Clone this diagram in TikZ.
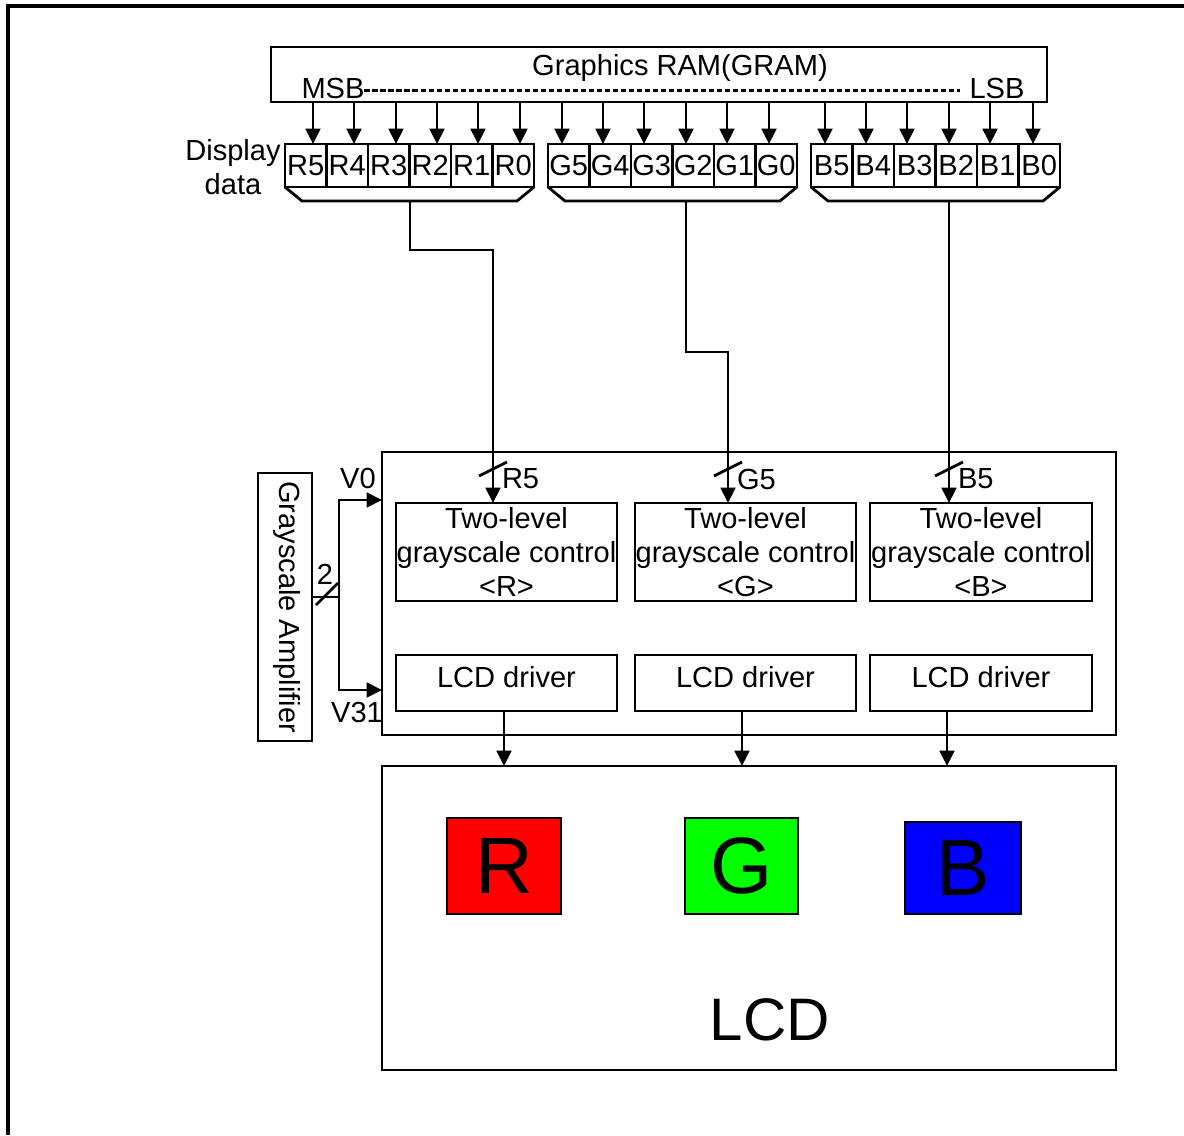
\documentclass[tikz,border=0pt]{standalone}
\usepackage{fontspec}
\setmainfont{Liberation Sans}
\usetikzlibrary{arrows.meta,fit}
\definecolor{cred}{HTML}{FF0000}
\definecolor{cgreen}{HTML}{00FF00}
\definecolor{cblue}{HTML}{0000FF}
\begin{document}
\begin{tikzpicture}[x=0.75pt,y=-0.75pt,
  line width=2.1pt,
  txt/.style={font=\fontsize{21.8}{25.5}\selectfont, inner sep=0pt, outer sep=0pt},
  box/.style={draw, rectangle, inner sep=0pt, outer sep=0pt, line width=2.1pt},
  arr/.style={-{Triangle[length=11.5pt,width=11pt]}, line width=2.1pt},
  dashline/.style={line width=1.9pt, dash pattern=on 4pt off 2pt},
  slash/.style={line width=2.1pt},
  big/.style={font=\fontsize{60}{60}\selectfont, inner sep=0pt}
]
\useasboundingbox (0,0) rectangle (1184,1135);
% outer frame (cropped)
\draw[line width=2.4pt] (8,1135) -- (8,6) -- (1184,6);

% GRAM
\node[box, fit={(271,47)(1047,102)}] (gram) {};
\node[txt] (gramt) at (680,68) {Graphics RAM(GRAM)};
\node[txt] (msb) at (333,88) {MSB};
\node[txt] (lsb) at (997,88) {LSB};
\draw[dashline] ([yshift=-2pt]msb.east) -- ([xshift=-7pt,yshift=-2pt]lsb.west);

% display data cells
\node[txt, align=center] (disp) at (233,167) {Display\\data};
\foreach \g/\xl in {R/285, G/548, B/811} {
  \foreach \i in {0,...,5} {
    \pgfmathtruncatemacro\b{5-\i}
    \pgfmathsetmacro\xa{\xl+\i*41.5}
    \pgfmathsetmacro\xb{\xl+(\i+1)*41.5}
    \node[box, fit={(\xa,144)(\xb,187)}] (c\g\b) {};
    \node[txt] at (c\g\b.center) {\g\b};
  }
}
% arrows from GRAM to cells
\foreach \n/\x in {R5/313, R4/354, R3/396, R2/437, R1/478, R0/520,
                   G5/562, G4/603, G3/644, G2/686, G1/727, G0/769,
                   B5/825, B4/866, B3/907, B2/949, B1/990, B0/1033} {
  \coordinate (a\n) at (\x,144);
  \draw[arr] (a\n |- gram.south) -- (a\n);
}
% trapezoids
\draw (285,187) -- (302,201) -- (517,201) -- (534,187);
\draw (548,187) -- (565,201) -- (780,201) -- (797,187);
\draw (811,187) -- (828,201) -- (1043,201) -- (1060,187);
\coordinate (trapR) at (410,201);
\coordinate (trapG) at (686,201);
\coordinate (trapB) at (949,201);

% main block
\node[box, fit={(382,452)(1116,735)}] (blk) {};
\node[box, fit={(396,503)(617,601)}] (gR) {};
\node[box, fit={(635,503)(856,601)}] (gG) {};
\node[box, fit={(870,503)(1092,601)}] (gB) {};
\node[txt, align=center] (tR) at (gR.center) {Two-level\\grayscale control\\<R>};
\node[txt, align=center] (tG) at (gG.center) {Two-level\\grayscale control\\<G>};
\node[txt, align=center] (tB) at (gB.center) {Two-level\\grayscale control\\<B>};
\node[box, fit={(396,655)(617,711)}] (dR) {};
\node[box, fit={(635,655)(856,711)}] (dG) {};
\node[box, fit={(870,655)(1092,711)}] (dB) {};
\node[txt] (ldR) at ([yshift=4.5pt]dR.center) {LCD driver};
\node[txt] (ldG) at ([yshift=4.5pt]dG.center) {LCD driver};
\node[txt] (ldB) at ([yshift=4.5pt]dB.center) {LCD driver};

% inputs to grayscale controls
\coordinate (inR) at (493,503);
\coordinate (inG) at (728,503);
\coordinate (inB) at (949,503);
\draw[arr] (trapR) -- ++(0,49) -| (inR);
\draw[arr] (trapG) -- ++(0,151) -| (inG);
\draw[arr] (trapB) -- (inB);
\foreach \c/\l in {inR/R5, inG/G5, inB/B5} {
  \draw[slash] ([shift={(-14,-27)}]\c) -- ++(28,-14);
  \node[txt, anchor=west] at ([shift={(9,-24)}]\c) {\l};
}

% grayscale amplifier
\node[box, fit={(258,473)(312,741)}] (amp) {};
\node[txt, rotate=-90] (ampt) at ([xshift=1.5pt]amp.center) {Grayscale Amplifier};
\coordinate (bus) at (339,597);
\coordinate (v0) at (382,500);
\coordinate (v31) at (382,690);
\draw (amp.east |- bus) -- (bus);
\draw[arr] (bus) |- (v0);
\draw[arr] (bus) |- (v31);
\draw[slash] (316,605) -- (338,583);
\node[txt] (two) at (325,574) {2};
\node[txt] (v0t) at (358,478) {V0};
\node[txt] (v31t) at (357,712) {V31};

% LCD
\node[box, fit={(382,766)(1116,1070)}] (lcd) {};
\coordinate (oR) at (504,766);
\coordinate (oG) at (742,766);
\coordinate (oB) at (947,766);
\draw[arr] (oR |- dR.south) -- (oR);
\draw[arr] (oG |- dG.south) -- (oG);
\draw[arr] (oB |- dB.south) -- (oB);

\node[box, fill=cred, fit={(447,818)(561,914)}] (sqR) {};
\node[box, fill=cgreen, fit={(685,818)(798,914)}] (sqG) {};
\node[box, fill=cblue, fit={(905,822)(1021,914)}] (sqB) {};
\node[big] (lR) at (sqR.center) {R};
\node[big] (lG) at (sqG.center) {G};
\node[big] (lB) at (sqB.center) {B};
\node[font=\fontsize{45}{45}\selectfont, inner sep=0pt] (lcdt) at (770,1020) {LCD};
\end{tikzpicture}
\end{document}
